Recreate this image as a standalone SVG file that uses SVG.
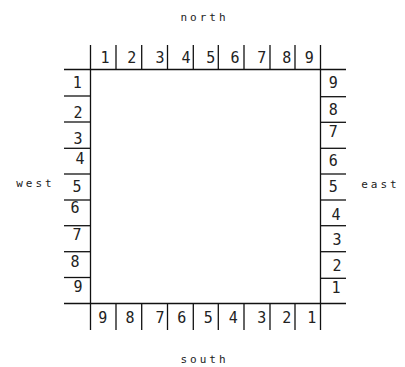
<svg xmlns="http://www.w3.org/2000/svg" width="405" height="367" viewBox="0 0 405 367">
<style>
.ln{stroke:#111;stroke-width:1.3;fill:none}
.num{font-family:"DejaVu Sans Mono",monospace;font-size:15px;fill:#222;text-anchor:middle}
.lbl{font-family:"DejaVu Sans Mono",monospace;font-size:11px;fill:#222;text-anchor:middle;letter-spacing:3px}
</style>
<rect width="405" height="367" fill="#fff"/>
<g id="frame" class="ln">
<line x1="64" y1="69.5" x2="346" y2="69.5"/>
<line x1="64" y1="303.5" x2="346" y2="303.5"/>
<line x1="90.5" y1="45" x2="90.5" y2="330"/>
<line x1="320.5" y1="45" x2="320.5" y2="330"/>
</g>
<g id="north-ticks" class="ln">
<line x1="116" y1="45" x2="116" y2="69"/>
<line x1="141.7" y1="45" x2="141.7" y2="69"/>
<line x1="167.5" y1="45" x2="167.5" y2="69"/>
<line x1="193.3" y1="45" x2="193.3" y2="69"/>
<line x1="218.3" y1="45" x2="218.3" y2="69"/>
<line x1="244" y1="45" x2="244" y2="69"/>
<line x1="270" y1="45" x2="270" y2="69"/>
<line x1="295" y1="45" x2="295" y2="69"/>
</g>
<g id="south-ticks" class="ln">
<line x1="116" y1="304" x2="116" y2="330"/>
<line x1="141.7" y1="304" x2="141.7" y2="330"/>
<line x1="167.5" y1="304" x2="167.5" y2="330"/>
<line x1="193.3" y1="304" x2="193.3" y2="330"/>
<line x1="218.3" y1="304" x2="218.3" y2="330"/>
<line x1="244" y1="304" x2="244" y2="330"/>
<line x1="270" y1="304" x2="270" y2="330"/>
<line x1="295" y1="304" x2="295" y2="330"/>
</g>
<g id="west-ticks" class="ln">
<line x1="64" y1="96" x2="90" y2="96"/>
<line x1="64" y1="122" x2="90" y2="122"/>
<line x1="64" y1="148.3" x2="90" y2="148.3"/>
<line x1="64" y1="174" x2="90" y2="174"/>
<line x1="64" y1="200" x2="90" y2="200"/>
<line x1="64" y1="225.7" x2="90" y2="225.7"/>
<line x1="64" y1="251.7" x2="90" y2="251.7"/>
<line x1="64" y1="277.5" x2="90" y2="277.5"/>
</g>
<g id="east-ticks" class="ln">
<line x1="321" y1="96.7" x2="346" y2="96.7"/>
<line x1="321" y1="122.3" x2="346" y2="122.3"/>
<line x1="321" y1="148.3" x2="346" y2="148.3"/>
<line x1="321" y1="174" x2="346" y2="174"/>
<line x1="321" y1="200" x2="346" y2="200"/>
<line x1="321" y1="225.7" x2="346" y2="225.7"/>
<line x1="321" y1="251.7" x2="346" y2="251.7"/>
<line x1="321" y1="278.3" x2="346" y2="278.3"/>
</g>
<g id="north-numbers" class="num">
<text x="105" y="63">1</text>
<text x="131.7" y="63">2</text>
<text x="160" y="63">3</text>
<text x="186" y="63">4</text>
<text x="210.7" y="63">5</text>
<text x="235" y="63">6</text>
<text x="261.7" y="63">7</text>
<text x="286.7" y="63">8</text>
<text x="309.3" y="63">9</text>
</g>
<g id="south-numbers" class="num">
<text x="102.7" y="323">9</text>
<text x="130" y="323">8</text>
<text x="160" y="323">7</text>
<text x="181.7" y="323">6</text>
<text x="208.3" y="323">5</text>
<text x="233.3" y="323">4</text>
<text x="261.7" y="323">3</text>
<text x="286.7" y="323">2</text>
<text x="311.7" y="323">1</text>
</g>
<g id="west-numbers" class="num">
<text x="77.3" y="88.3">1</text>
<text x="78" y="118.3">2</text>
<text x="78" y="144">3</text>
<text x="80" y="164.3">4</text>
<text x="77" y="191.7">5</text>
<text x="75" y="213.3">6</text>
<text x="77" y="240">7</text>
<text x="75" y="266.7">8</text>
<text x="78" y="292.3">9</text>
</g>
<g id="east-numbers" class="num">
<text x="333.3" y="88.3">9</text>
<text x="333.3" y="115">8</text>
<text x="333.3" y="137.3">7</text>
<text x="333.3" y="166">6</text>
<text x="333.3" y="191.7">5</text>
<text x="336" y="220">4</text>
<text x="337" y="245">3</text>
<text x="337" y="270.7">2</text>
<text x="336" y="293.3">1</text>
</g>
<g id="side-labels" class="lbl">
<text x="204.5" y="21">north</text>
<text x="204.5" y="363">south</text>
<text x="35.5" y="187">west</text>
<text x="380.5" y="188">east</text>
</g>
</svg>
